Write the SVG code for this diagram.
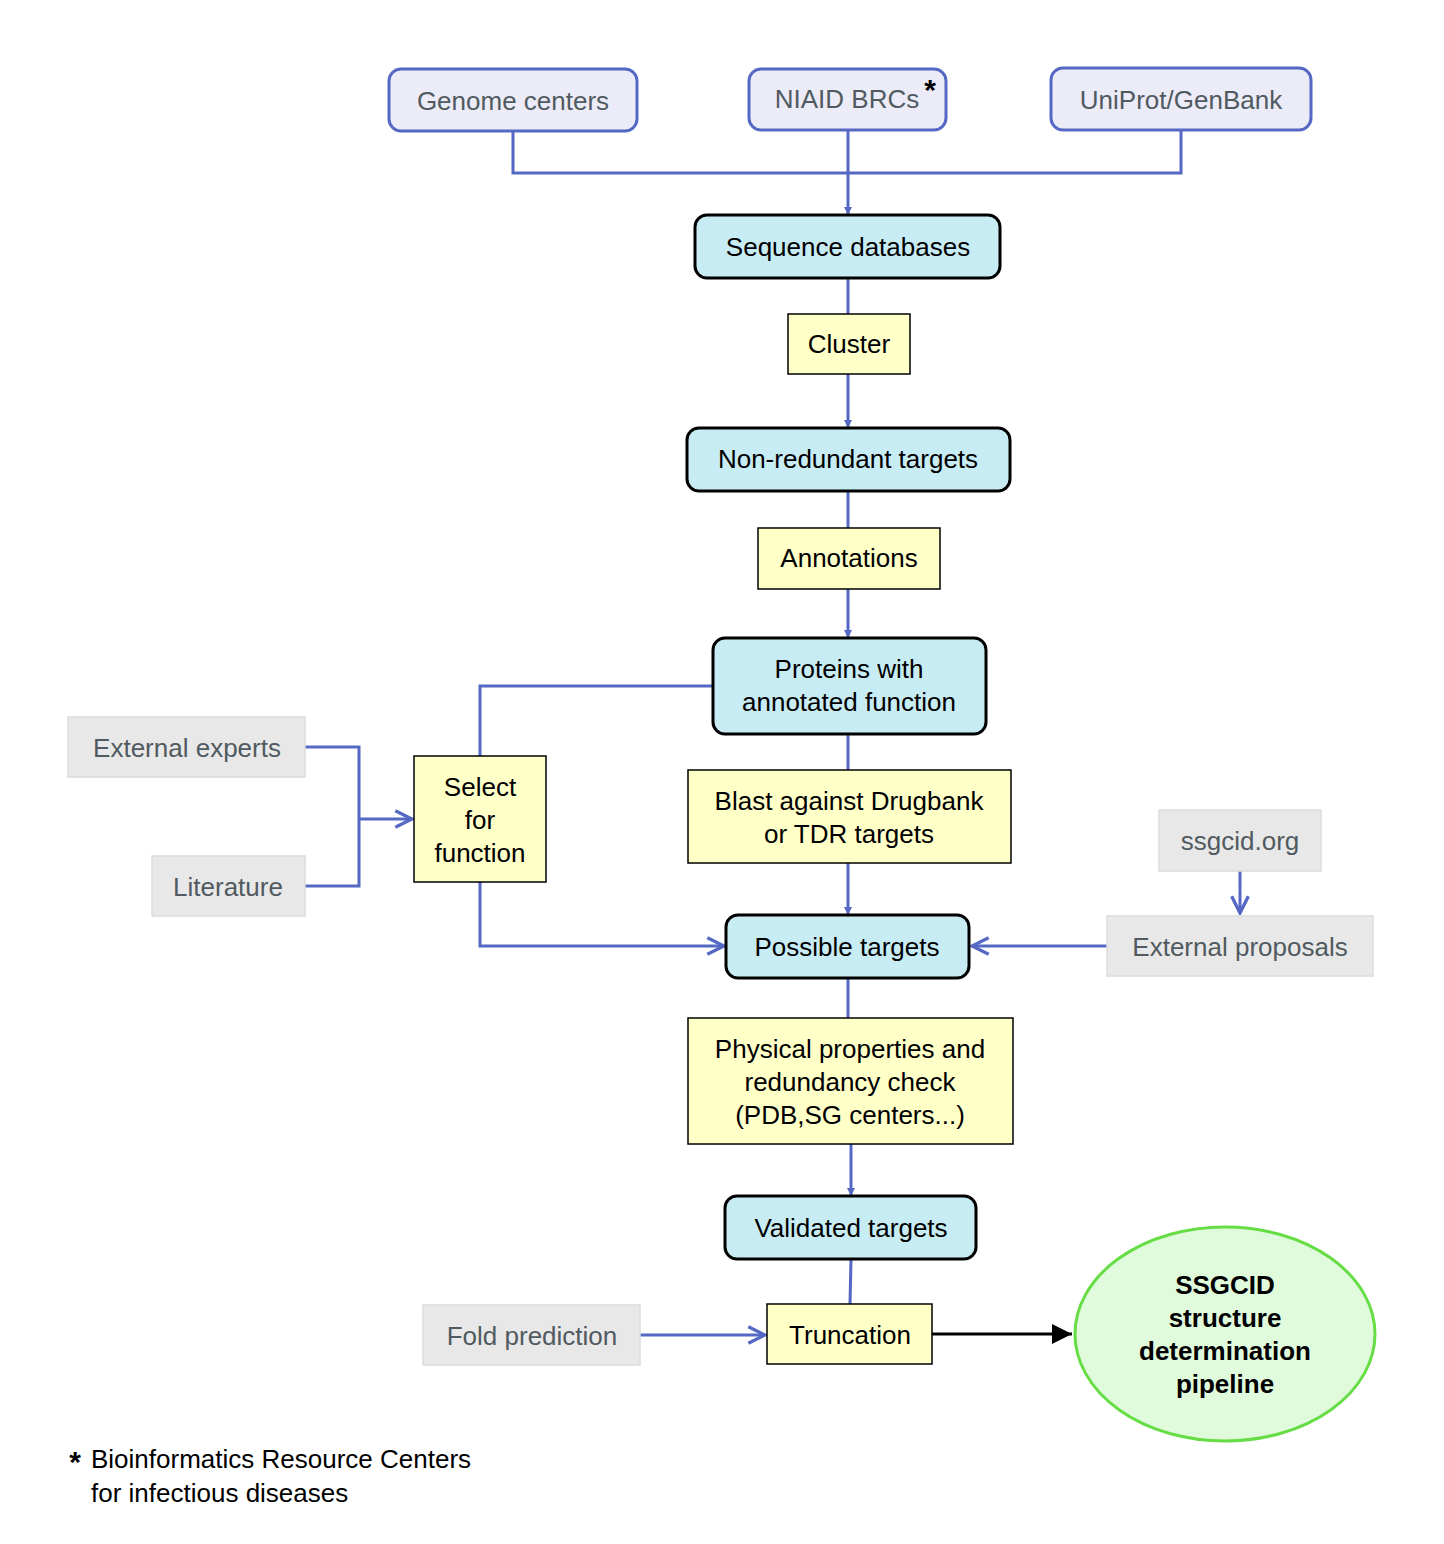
<svg xmlns="http://www.w3.org/2000/svg" width="1444" height="1544" viewBox="0 0 1444 1544">
<style>
text{font-family:"Liberation Sans",Arial,sans-serif;font-size:26px;text-anchor:middle}
.src rect{fill:#ececf8;stroke:#5468c4;stroke-width:3}
.src text,.ext text{fill:#505a60}
.main rect{fill:#c8ecf4;stroke:#000;stroke-width:3}
.step rect{fill:#ffffc8;stroke:#000;stroke-width:1.5}
.ext rect{fill:#e8e8e8;stroke:#dcdcdc;stroke-width:1.5}
.c path{fill:none;stroke:#5468c4;stroke-width:3}
</style>
<defs>
<marker id="f" viewBox="0 0 10 10" refX="10" refY="5" markerWidth="8" markerHeight="8" markerUnits="userSpaceOnUse" orient="auto"><path d="M0,0L10,5L0,10z" fill="#5468c4"/></marker>
<marker id="o" viewBox="0 0 12 12" refX="11" refY="6" markerWidth="20" markerHeight="20" markerUnits="userSpaceOnUse" orient="auto"><path d="M1,1L11,6L1,11" fill="none" stroke="#5468c4" stroke-width="2"/></marker>
<marker id="k" viewBox="0 0 10 10" refX="10" refY="5" markerWidth="20" markerHeight="20" markerUnits="userSpaceOnUse" orient="auto"><path d="M0,0L10,5L0,10z" fill="#000"/></marker>
</defs>
<g class="c" id="connectors">
<path d="M513,131V173H1181V130"/>
<path d="M848,130V215" marker-end="url(#f)" style="stroke-width:3"/>
<path d="M848,278V314"/>
<path d="M848,374V428" marker-end="url(#f)"/>
<path d="M848,491V528"/>
<path d="M848,589V638" marker-end="url(#f)"/>
<path d="M713,686H480V756"/>
<path d="M848,734V770"/>
<path d="M848,863V915" marker-end="url(#f)"/>
<path d="M305,747H359V886H305"/>
<path d="M359,819H412" marker-end="url(#o)"/>
<path d="M480,882V946H724" marker-end="url(#o)"/>
<path d="M1240,871V913" marker-end="url(#o)"/>
<path d="M1107,946H972" marker-end="url(#o)"/>
<path d="M848,978V1018"/>
<path d="M851,1144V1196" marker-end="url(#f)"/>
<path d="M851,1259L850,1304"/>
<path d="M640,1335H765" marker-end="url(#o)"/>
<path d="M932,1334H1072" marker-end="url(#k)" style="stroke:#000"/>
</g>
<g id="genome" class="src"><rect x="389" y="69" width="248" height="62" rx="12"/><text x="513" y="110">Genome centers</text></g>
<g id="niaid" class="src"><rect x="749" y="69" width="197" height="61" rx="12"/><text x="847" y="108">NIAID BRCs</text><text x="930" y="100" style="fill:#000;font-weight:bold;font-size:30px">*</text></g>
<g id="uniprot" class="src"><rect x="1051" y="68" width="260" height="62" rx="12"/><text x="1181" y="109">UniProt/GenBank</text></g>
<g id="seqdb" class="main"><rect x="695" y="215" width="305" height="63" rx="12"/><text x="848" y="256">Sequence databases</text></g>
<g id="cluster" class="step"><rect x="788" y="314" width="122" height="60"/><text x="849" y="353">Cluster</text></g>
<g id="nonred" class="main"><rect x="687" y="428" width="323" height="63" rx="12"/><text x="848" y="468">Non-redundant targets</text></g>
<g id="annot" class="step"><rect x="758" y="528" width="182" height="61"/><text x="849" y="567">Annotations</text></g>
<g id="proteins" class="main"><rect x="713" y="638" width="273" height="96" rx="12"/><text x="849" y="678">Proteins with</text><text x="849" y="711">annotated function</text></g>
<g id="select" class="step"><rect x="414" y="756" width="132" height="126"/><text x="480" y="796">Select</text><text x="480" y="829">for</text><text x="480" y="862">function</text></g>
<g id="experts" class="ext"><rect x="68" y="717" width="237" height="60"/><text x="187" y="757">External experts</text></g>
<g id="literature" class="ext"><rect x="152" y="856" width="153" height="60"/><text x="228" y="896">Literature</text></g>
<g id="blast" class="step"><rect x="688" y="770" width="323" height="93"/><text x="849" y="810">Blast against Drugbank</text><text x="849" y="843">or TDR targets</text></g>
<g id="ssgcidorg" class="ext"><rect x="1159" y="810" width="162" height="61"/><text x="1240" y="850">ssgcid.org</text></g>
<g id="proposals" class="ext"><rect x="1107" y="916" width="266" height="60"/><text x="1240" y="956">External proposals</text></g>
<g id="possible" class="main"><rect x="726" y="915" width="243" height="63" rx="12"/><text x="847" y="956">Possible targets</text></g>
<g id="physical" class="step"><rect x="688" y="1018" width="325" height="126"/><text x="850" y="1058">Physical properties and</text><text x="850" y="1091">redundancy check</text><text x="850" y="1124">(PDB,SG centers...)</text></g>
<g id="validated" class="main"><rect x="725" y="1196" width="251" height="63" rx="12"/><text x="851" y="1237">Validated targets</text></g>
<g id="truncation" class="step"><rect x="767" y="1304" width="165" height="60"/><text x="850" y="1344">Truncation</text></g>
<g id="fold" class="ext"><rect x="423" y="1305" width="217" height="60"/><text x="532" y="1345">Fold prediction</text></g>
<g id="pipeline"><ellipse cx="1225" cy="1334" rx="150" ry="107" fill="#e0fadc" stroke="#66dd44" stroke-width="3"/><g style="font-weight:bold"><text x="1225" y="1294" font-weight="bold">SSGCID</text><text x="1225" y="1327" font-weight="bold">structure</text><text x="1225" y="1360" font-weight="bold">determination</text><text x="1225" y="1393" font-weight="bold">pipeline</text></g></g>
<g id="footnote"><text x="75" y="1472" style="font-weight:bold;font-size:30px">*</text><text x="91" y="1468" style="text-anchor:start">Bioinformatics Resource Centers</text><text x="91" y="1502" style="text-anchor:start">for infectious diseases</text></g>
</svg>
